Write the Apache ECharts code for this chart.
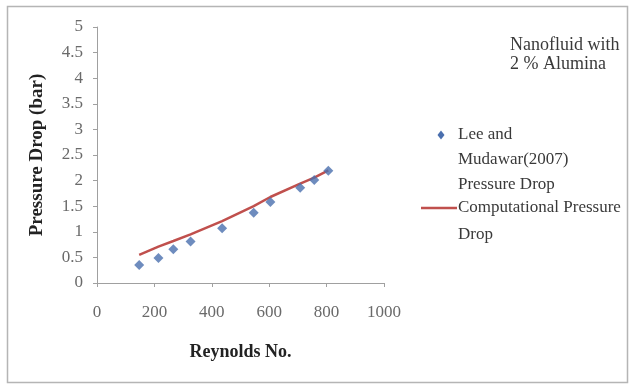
<!DOCTYPE html>
<html>
<head>
<meta charset="utf-8">
<script src="https://cdn.jsdelivr.net/npm/echarts@6/dist/echarts.min.js"></script>
<style>
  html, body { margin: 0; padding: 0; background: #fff; }
  #chart { width: 635px; height: 387px; }
</style>
</head>
<body>
<div id="chart"></div>
<script>
// Reynolds numbers and pressure drops (bar)
const reynolds = [147, 214, 266, 326, 436, 546, 604, 708, 757, 806];
const measuredDrop = [0.35, 0.49, 0.66, 0.81, 1.07, 1.37, 1.58, 1.86, 2.01, 2.19];
const computedDrop = [0.55, 0.71, 0.82, 0.95, 1.21, 1.50, 1.68, 1.94, 2.06, 2.20];
const yTicks = [0, 0.5, 1, 1.5, 2, 2.5, 3, 3.5, 4, 4.5, 5];
const xTicks = [0, 200, 400, 600, 800, 1000];

const serif = '"Liberation Serif", "DejaVu Serif", serif';
const blue = '#4a6fae';
const red = '#c0504d';
const textColor = '#3a3a3a';

const chart = echarts.init(document.getElementById('chart'), null, { renderer: 'canvas' });

chart.setOption({
  backgroundColor: '#fff',
  animation: false,
  grid: { left: 97, right: 251, top: 27, bottom: 104 },
  xAxis: {
    type: 'value',
    min: xTicks[0],
    max: xTicks[xTicks.length - 1],
    interval: 200,
    name: 'Reynolds No.',
    nameLocation: 'middle',
    nameGap: 60,
    nameTextStyle: { fontFamily: serif, fontSize: 18, fontWeight: 'bold', color: '#222' },
    axisLine: { lineStyle: { color: '#a0a0a0', width: 1 } },
    axisTick: { show: true, length: 4, lineStyle: { color: '#a0a0a0' } },
    axisLabel: { fontFamily: serif, fontSize: 17, color: '#6a6a6a', margin: 21, formatter: v => String(v) },
    splitLine: { show: false }
  },
  yAxis: {
    type: 'value',
    min: yTicks[0],
    max: yTicks[yTicks.length - 1],
    interval: 0.5,
    name: 'Pressure Drop (bar)',
    nameLocation: 'middle',
    nameGap: 50,
    nameTextStyle: { fontFamily: serif, fontSize: 19, fontWeight: 'bold', color: '#222' },
    axisLine: { show: true, lineStyle: { color: '#a0a0a0', width: 1 } },
    axisTick: { show: true, length: 4, lineStyle: { color: '#a0a0a0' } },
    axisLabel: { fontFamily: serif, fontSize: 17, color: '#6a6a6a', margin: 14, formatter: v => String(v) },
    splitLine: { show: false }
  },
  series: [
    {
      name: 'Computational Pressure Drop',
      type: 'line',
      data: reynolds.map((r, i) => [r, computedDrop[i]]),
      showSymbol: false,
      lineStyle: { color: red, width: 2.5 },
      z: 2
    },
    {
      name: 'Lee and Mudawar(2007) Pressure Drop',
      type: 'scatter',
      data: reynolds.map((r, i) => [r, measuredDrop[i]]),
      symbol: 'diamond',
      symbolSize: 10,
      itemStyle: { color: blue },
      z: 3
    }
  ],
  graphic: [
    // chart frame
    {
      type: 'rect',
      shape: { x: 7.5, y: 6.5, width: 620, height: 376 },
      style: { fill: 'none', stroke: '#b5b5b5', lineWidth: 1.5 },
      silent: true
    },
    {
      type: 'text',
      x: 510, y: 35.5,
      style: {
        text: 'Nanofluid with\n2 % Alumina',
        font: '18px ' + serif,
        fill: textColor,
        lineHeight: 19
      }
    },
    // legend
    {
      type: 'polygon',
      shape: { points: [[441, 130.5], [444.5, 135], [441, 139.5], [437.5, 135]] },
      style: { fill: blue }
    },
    {
      type: 'text',
      x: 458, y: 122.5,
      style: {
        text: 'Lee and\nMudawar(2007)\nPressure Drop',
        font: '17px ' + serif,
        fill: textColor,
        lineHeight: 25
      }
    },
    {
      type: 'line',
      shape: { x1: 421, y1: 208, x2: 457, y2: 208 },
      style: { stroke: red, lineWidth: 2.5 }
    },
    {
      type: 'text',
      x: 458, y: 194.5,
      style: {
        text: 'Computational Pressure\nDrop',
        font: '17px ' + serif,
        fill: textColor,
        lineHeight: 27
      }
    }
  ]
});
</script>
</body>
</html>
